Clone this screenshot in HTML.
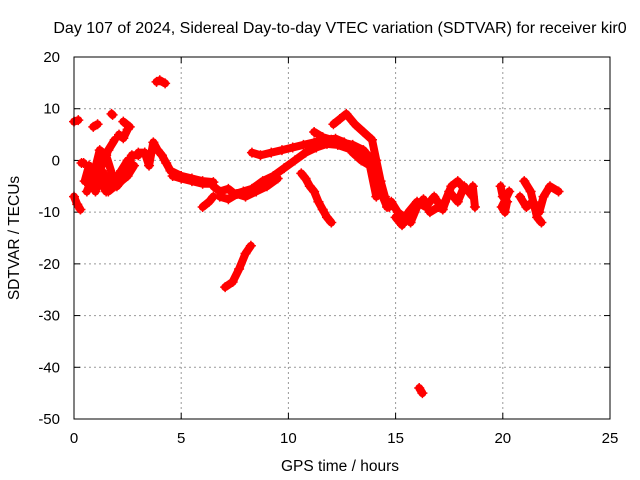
<!DOCTYPE html>
<html><head><meta charset="utf-8"><style>
body{margin:0;background:#fff;}
svg{display:block;font-family:"Liberation Sans",sans-serif;}
</style></head><body>
<svg id="c" width="640" height="480" viewBox="0 0 640 480">
<text x="340" y="33" font-size="16" text-anchor="middle">Day 107 of 2024, Sidereal Day-to-day VTEC variation (SDTVAR) for receiver kir0</text>
<text x="340" y="471" font-size="15.5" text-anchor="middle">GPS time / hours</text>
<text x="0" y="0" font-size="15.5" text-anchor="middle" transform="translate(19,238) rotate(-90)">SDTVAR / TECUs</text>
<g id="grid"></g><g id="ticks"></g><g id="marks"></g>
<rect x="74" y="57" width="536" height="362" fill="none" stroke="#000" stroke-width="1"/>
</svg>
<script>
const xTicks=[0,5,10,15,20,25];
const yTicks=[20,10,0,-10,-20,-30,-40,-50];
const tracks=[
 {t:[0,0.2],v:[7.5,7.8]},
 {t:[0,0.15,0.3],v:[-7,-8.5,-9.5]},
 {t:[0.5,0.7,1.0,1.3,1.6,2.0,2.4,2.7,3.0],v:[-4,-1,-6,-2,-4,-5,-3,1,1]},
 {t:[0.6,0.9,1.2,1.5,1.8],v:[-6,-3,2,1,-3]},
 {t:[1.3,1.6,1.9],v:[-1,2,4]},
 {t:[1.2,1.5,1.7],v:[-4,-6,-3]},
 {t:[0.8,1.0,1.3,1.6,1.9,2.2,2.5],v:[-2,-4,-3,-5,-4,-2,0]},
 {t:[1.6,1.9,2.2,2.5,2.8],v:[-6,-5,-4,-3,-1]},
 {t:[0.9,1.1],v:[6.5,7]},
 {t:[1.75,1.8],v:[9,8.8]},
 {t:[2.1,2.3,2.5],v:[5,4.3,6]},
 {t:[2.3,2.6],v:[7.5,6.5]},
 {t:[0.35,0.45],v:[-0.5,-0.5]},
 {t:[3.3,3.5,3.7,3.9,4.1,4.3,4.5,5.0,5.5,6.0,6.5],v:[1.5,-1,3.5,2,1,-0.5,-2,-3,-3.5,-4,-4.2]},
 {t:[4.6,5.0,5.5,6.0,6.4],v:[-3,-3.5,-4,-4.5,-4.5]},
 {t:[3.0,3.3],v:[1.5,1.5]},
 {t:[3.85,4.0,4.25],v:[15.2,15.5,14.9]},
 {t:[6.0,6.3,6.5],v:[-9,-8,-7]},
 {t:[6.5,6.8,7.2,7.5,7.9,8.3,8.8,9.3,9.8,10.3,10.8,11.3,11.8,12.3,12.8,13.2,13.6,14.0],v:[-5,-6,-5.5,-6.5,-6,-5.5,-4,-3,-1.5,0,1.5,2.5,3.2,3,2.3,1.5,0,-2]},
 {t:[6.8,7.2,7.6,8.0,8.5,9.0,9.5],v:[-7,-7.5,-6.5,-7,-6,-5,-3.5]},
 {t:[8.3,8.7,9.2,9.7,10.2,10.7,11.2,11.7,12.2,12.6,13.0,13.4,13.8,14.1],v:[1.5,1,1.5,2,2.5,3,3.5,4,4.2,3.5,1.5,0,-1,-7]},
 {t:[11.2,11.6,12.0,12.5,13.0,13.5,13.9,14.2,14.4,14.6],v:[5.5,4.5,4,3.5,3,2,0,-3,-7,-9]},
 {t:[12.1,12.4,12.7,13.1,13.5,13.9,14.1,14.3,14.5,14.7],v:[7,8,9,7,5.5,4,0,-4,-7,-9]},
 {t:[10.6,10.8,11.0,11.2,11.4,11.6,11.8,12.0],v:[-2.5,-3.5,-5,-6,-8,-9.5,-11,-12]},
 {t:[14.8,15.1,15.4,15.7,16.0,16.3,16.6,17.0,17.3,17.6,17.9,18.2],v:[-8,-10,-11,-12,-9,-7.5,-10,-9,-8,-5,-4,-5.5]},
 {t:[15.0,15.3,15.6,16.0,16.4,16.8,17.2,17.5,17.9,18.2,18.6],v:[-11,-12.5,-10,-8,-9,-7,-9.5,-6,-8,-5,-7]},
 {t:[16.1,16.25],v:[-44,-45]},
 {t:[7.05,7.4,7.7,8.0,8.25],v:[-24.5,-23.5,-21,-18,-16.5]},
 {t:[19.9,20.0,20.2,20.1,19.95,20.3],v:[-5,-7,-8,-10,-9,-6]},
 {t:[20.8,21.1,21.4,21.7,21.9,22.2,22.6],v:[-7,-9,-8,-10,-7,-5,-6]},
 {t:[21.0,21.3,21.6,21.8],v:[-4,-6,-11,-12]},
 {t:[18.6,18.7],v:[-5,-9]}
];
const L=74,R=610,T=57,B=419;
const sx=h=>L+(h-0)/25*(R-L);
const sy=v=>T+(20-v)/70*(B-T);
const NS="http://www.w3.org/2000/svg";
const grid=document.getElementById('grid'),ticks=document.getElementById('ticks'),marks=document.getElementById('marks');
function mk(tag,at,p){const e=document.createElementNS(NS,tag);for(const k in at)e.setAttribute(k,at[k]);p.appendChild(e);return e;}
xTicks.forEach(t=>{const x=sx(t);
 if(t>0&&t<25){const g=mk('line',{x1:x,x2:x,y1:T,y2:B,stroke:'#999','stroke-dasharray':'2,3'},grid);
 
 }
 mk('line',{x1:x,x2:x,y1:B,y2:B-6,stroke:'#000'},ticks);mk('line',{x1:x,x2:x,y1:T,y2:T+6,stroke:'#000'},ticks);
 const l=mk('text',{x:x,y:B+24,'font-size':15,'text-anchor':'middle'},ticks);l.textContent=t;
 
 });
yTicks.forEach(t=>{const y=sy(t);
 if(t<20&&t>-50){const g=mk('line',{x1:L,x2:R,y1:y,y2:y,stroke:'#999','stroke-dasharray':'2,3'},grid);
 
 }
 mk('line',{x1:L,x2:L+6,y1:y,y2:y,stroke:'#000'},ticks);mk('line',{x1:R,x2:R-6,y1:y,y2:y,stroke:'#000'},ticks);
 const l=mk('text',{x:L-14,y:y+5,'font-size':15,'text-anchor':'end'},ticks);l.textContent=t;
 
 });
tracks.forEach(tr=>{
 const pts=tr.t.map((h,i)=>sx(h)+','+sy(tr.v[i])).join(' ');
 const p=mk('polyline',{points:pts,fill:'none',stroke:'#f00','stroke-width':8,'stroke-linejoin':'round','stroke-linecap':'round'},marks);
 
 
 tr.t.forEach((h,i)=>{const x=sx(h),y=sy(tr.v[i]);
  const m=mk('path',{d:`M${x-5},${y}H${x+5}M${x},${y-5}V${y+5}`,stroke:'#f00','stroke-width':1.5},marks);
  
  });
});
</script>
</body></html>
